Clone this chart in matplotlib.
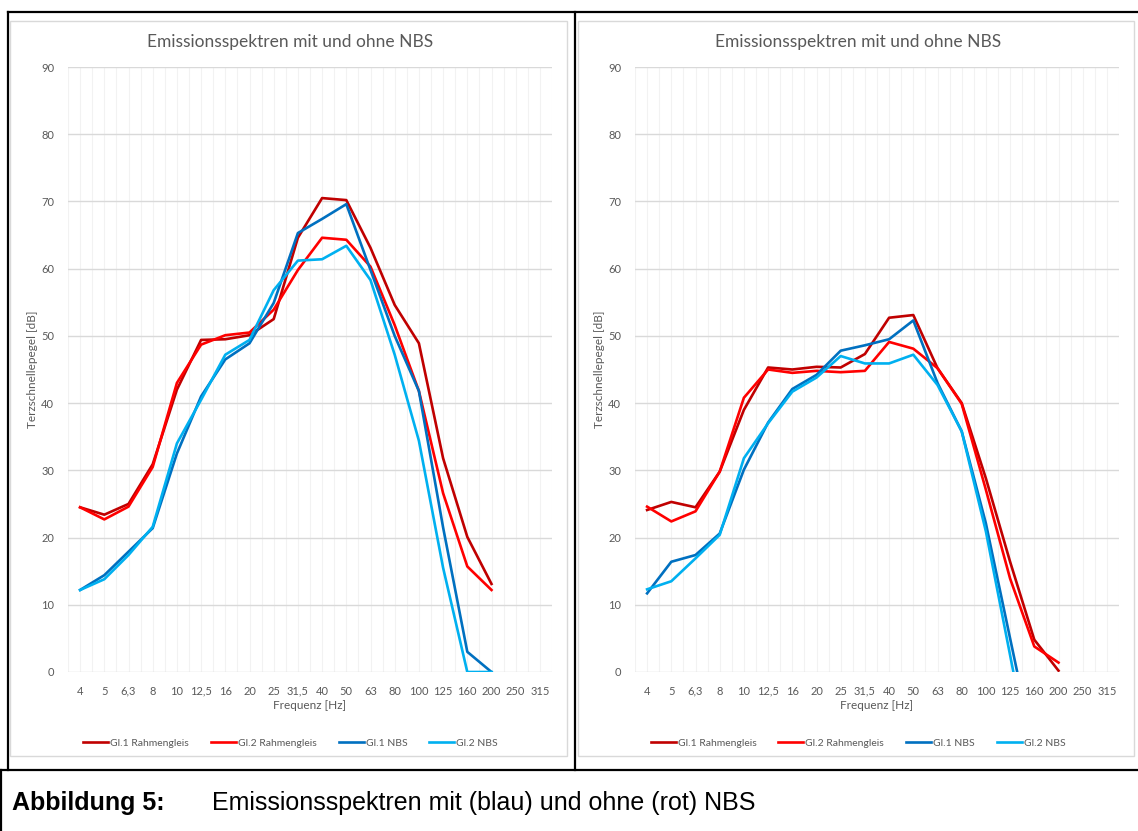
import matplotlib
matplotlib.use('Agg')
import matplotlib.pyplot as plt
import numpy as np
from matplotlib.lines import Line2D
from matplotlib.patches import Rectangle

# category axis (third-octave bands)
freq_labels = ['4', '5', '6,3', '8', '10', '12,5', '16', '20', '25', '31,5',
               '40', '50', '63', '80', '100', '125', '160', '200', '250', '315']

# left chart values [dB]
left_gl1_rahmen = [24.5, 23.4, 25.0, 30.9, 42.0, 49.4, 49.5, 50.1, 52.5, 64.6,
                   70.5, 70.2, 63.1, 54.6, 48.9, 31.8, 20.1, 13.1, None, None]
left_gl2_rahmen = [24.5, 22.7, 24.6, 30.5, 43.0, 48.7, 50.1, 50.5, 53.9, 59.8,
                   64.6, 64.3, 60.3, 51.6, 41.8, 26.6, 15.7, 12.2, None, None]
left_gl1_nbs = [12.2, 14.4, 17.9, 21.4, 32.5, 41.0, 46.5, 48.9, 54.9, 65.3,
                67.4, 69.6, 59.8, 50.0, 41.8, 21.5, 3.0, 0.0, None, None]
left_gl2_nbs = [12.2, 13.8, 17.4, 21.6, 34.0, 40.5, 47.2, 49.4, 56.8, 61.2,
                61.4, 63.4, 58.3, 47.2, 34.4, 15.5, 0.0, 0.0, None, None]

# right chart values [dB]
right_gl1_rahmen = [24.1, 25.3, 24.5, 29.8, 39.0, 45.3, 45.0, 45.4, 45.3, 47.3,
                    52.7, 53.1, 45.2, 40.0, 28.8, 16.4, 4.8, 0.2, None, None]
right_gl2_rahmen = [24.6, 22.4, 23.9, 29.8, 40.8, 45.0, 44.5, 44.8, 44.6, 44.8,
                    49.1, 48.1, 45.2, 39.9, 27.1, 13.9, 3.8, 1.4, None, None]
right_gl1_nbs = [11.7, 16.4, 17.4, 20.6, 30.1, 37.1, 42.1, 44.2, 47.8, 48.6,
                 49.5, 52.3, 43.0, 35.8, 22.1, 5.0, -12.0, None, None, None]
right_gl2_nbs = [12.3, 13.5, 16.9, 20.4, 31.8, 37.0, 41.7, 43.8, 47.0, 45.9,
                 45.9, 47.2, 42.7, 35.8, 20.9, 2.5, -16.0, None, None, None]

series_names = ['Gl.1 Rahmengleis', 'Gl.2 Rahmengleis', 'Gl.1 NBS', 'Gl.2 NBS']
series_colors = ['#C00000', '#FF0000', '#0070C0', '#00B0F0']

W, H = 1138, 831
fig = plt.figure(figsize=(W / 100, H / 100), dpi=100)
fig.patch.set_facecolor('white')

def fx(x):
    return x / W

def fy(y):
    return 1 - y / H

txt = '#595959'
font = ['Lato', 'DejaVu Sans']
cap_font = ['Liberation Sans', 'DejaVu Sans']

# black table lines
for (x0, y0, x1, y1) in [(8, 12, 1138, 12), (8, 12, 8, 770), (575, 12, 575, 770),
                         (0, 770, 1138, 770), (1, 770, 1, 831)]:
    fig.add_artist(Line2D([fx(x0), fx(x1)], [fy(y0), fy(y1)], color='black', lw=1.6))

# caption
fig.text(fx(12), fy(803), 'Abbildung 5:', fontsize=18, fontweight='bold',
         family=cap_font, va='center', ha='left')
fig.text(fx(212), fy(803), 'Emissionsspektren mit (blau) und ohne (rot) NBS', fontsize=18,
         family=cap_font, va='center', ha='left')

charts = [
    (68, 10, 567, [left_gl1_rahmen, left_gl2_rahmen, left_gl1_nbs, left_gl2_nbs]),
    (635, 578, 1134, [right_gl1_rahmen, right_gl2_rahmen, right_gl1_nbs, right_gl2_nbs]),
]

x = np.arange(len(freq_labels))
for (ax_left, box_l, box_r, data) in charts:
    # chart area border
    fig.add_artist(Rectangle((fx(box_l), fy(756)), fx(box_r - box_l), (756 - 21) / H,
                             fill=False, edgecolor='#D9D9D9', lw=1.0))
    ax = fig.add_axes([fx(ax_left), fy(672), 484 / W, 605 / H])
    for i in range(len(freq_labels)):
        ax.axvline(i, color='#F2F2F2', lw=0.8, zorder=0)
        ax.axvline(i + 0.5, color='#F2F2F2', lw=0.8, zorder=0)
    ax.axvline(-0.5, color='#F2F2F2', lw=0.8, zorder=0)
    for yv in range(0, 100, 10):
        ax.axhline(yv, color='#D9D9D9', lw=1.0, zorder=1)
    lines = []
    for vals, name, col in zip(data, series_names, series_colors):
        y = np.array([np.nan if v is None else v for v in vals], dtype=float)
        ln, = ax.plot(x, y, color=col, lw=1.9, label=name, zorder=3)
        lines.append(ln)
    ax.set_xlim(-0.5, len(freq_labels) - 0.5)
    ax.set_ylim(0, 90)
    ax.set_xticks(x)
    ax.set_xticklabels(freq_labels)
    ax.set_yticks(range(0, 100, 10))
    for s in ax.spines.values():
        s.set_visible(False)
    ax.tick_params(length=0, colors=txt, labelsize=8)
    ax.tick_params(axis='x', pad=10)
    ax.tick_params(axis='y', pad=10)
    for lab in ax.get_xticklabels() + ax.get_yticklabels():
        lab.set_family(font)
    ax.set_xlabel('Frequenz [Hz]', fontsize=8.5, color=txt, family=font, labelpad=2)
    ax.set_ylabel('Terzschnellepegel [dB]', fontsize=8.5, color=txt, family=font, labelpad=2)
    ax.set_facecolor('none')
    cx = (box_l + box_r) / 2
    fig.text(fx(cx + 2), fy(42), 'Emissionsspektren mit und ohne NBS', fontsize=12.5,
             color=txt, family=font, ha='center', va='center')
    fig.legend(handles=lines, loc='center', bbox_to_anchor=(fx(cx + 2), fy(743)), ncol=4,
               frameon=False, handlelength=2.4, handletextpad=0.2,
               columnspacing=2.1, labelcolor=txt, prop={'family': font, 'size': 7.5})

fig.savefig('out.png', dpi=100)
